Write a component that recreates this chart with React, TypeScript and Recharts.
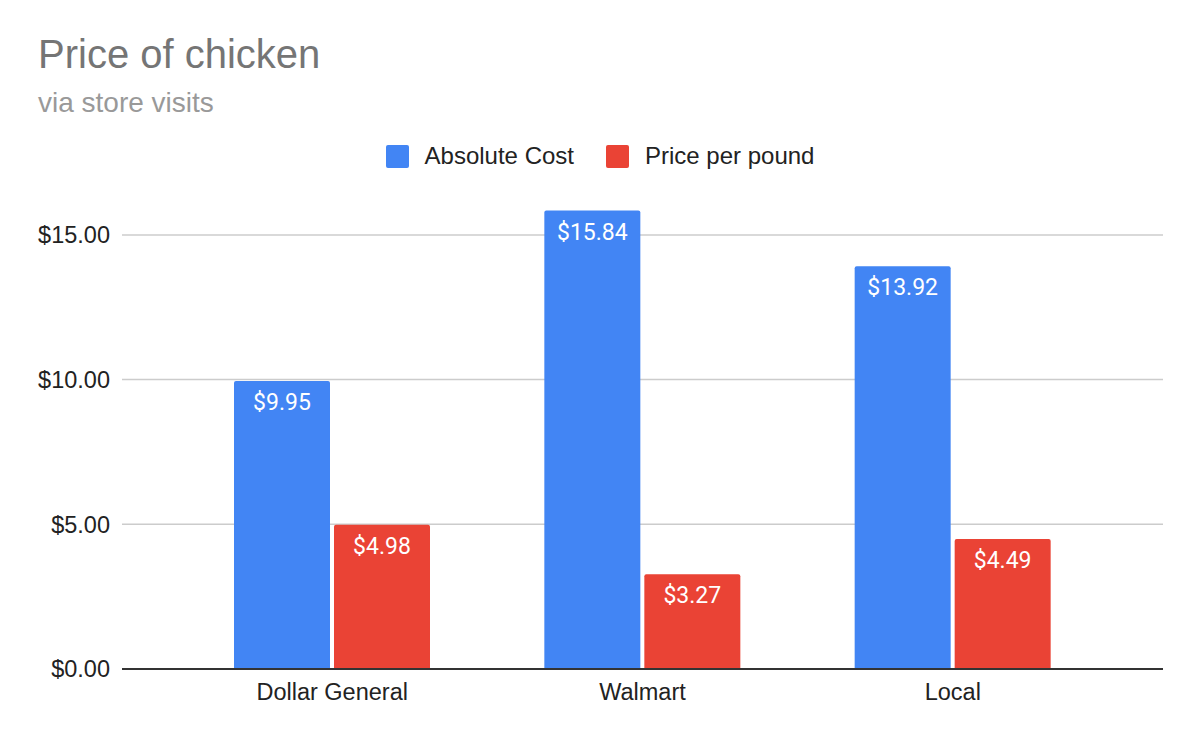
import { Bar, BarChart, CartesianGrid, LabelList, XAxis, YAxis } from "recharts";

const categories = ["Dollar General", "Walmart", "Local"];
const absoluteCost = [9.95, 15.84, 13.92];
const pricePerPound = [4.98, 3.27, 4.49];
const yTicks = [0, 5, 10, 15];

const BLUE = "#4285f4";
const RED = "#ea4335";
const FONT = "'Liberation Sans', Arial, sans-serif";

const data = categories.map((name, i) => ({
  name,
  absolute: absoluteCost[i],
  perPound: pricePerPound[i],
}));

const money = (v: number) => `$${v.toFixed(2)}`;

function InsideLabel(props: any) {
  const { x, y, width, value } = props;
  return (
    <text
      x={x + width / 2}
      y={y + 29}
      textAnchor="middle"
      fill="#fff"
      fontSize={23}
      fontFamily="Roboto, sans-serif"
    >
      {money(value)}
    </text>
  );
}

function LegendItem({ color, label }: { color: string; label: string }) {
  return (
    <div style={{ display: "flex", alignItems: "center", marginRight: 32 }}>
      <div
        style={{
          width: 23,
          height: 23,
          background: color,
          borderRadius: 2,
          marginRight: 16,
        }}
      />
      <span style={{ fontSize: 24, color: "#222" }}>{label}</span>
    </div>
  );
}

export default function App() {
  return (
    <div
      style={{
        position: "absolute",
        left: 0,
        top: 0,
        width: 1200,
        height: 742,
        background: "#fff",
        fontFamily: FONT,
      }}
    >
      <div
        style={{
          position: "absolute",
          left: 38,
          top: 30,
          fontSize: 40,
          color: "#757575",
          lineHeight: "48px",
        }}
      >
        Price of chicken
      </div>
      <div
        style={{
          position: "absolute",
          left: 38,
          top: 86,
          fontSize: 28,
          color: "#999",
          lineHeight: "34px",
        }}
      >
        via store visits
      </div>
      <div
        style={{
          position: "absolute",
          top: 142,
          left: 0,
          width: 1200,
          display: "flex",
          justifyContent: "center",
          paddingLeft: 32,
          boxSizing: "border-box",
        }}
      >
        <LegendItem color={BLUE} label="Absolute Cost" />
        <LegendItem color={RED} label="Price per pound" />
      </div>
      <BarChart
        width={1200}
        height={742}
        data={data}
        margin={{ top: 177, right: 37, bottom: 43, left: 0 }}
        barSize={96}
        barGap={4}
        style={{ position: "absolute", left: 0, top: 0 }}
      >
        <CartesianGrid
          vertical={false}
          horizontalValues={yTicks}
          stroke="#cccccc"
          strokeWidth={1.5}
        />
        <YAxis
          width={122}
          domain={[0, 17]}
          ticks={yTicks}
          tickFormatter={money}
          axisLine={false}
          tickLine={false}
          tickSize={0}
          tickMargin={12}
          tick={{ fontSize: 23.5, fill: "#222", fontFamily: FONT }}
        />
        <XAxis
          dataKey="name"
          height={30}
          padding={{ left: 55, right: 55 }}
          tickLine={false}
          tickSize={0}
          tickMargin={14}
          axisLine={{ stroke: "#333", strokeWidth: 2 }}
          tick={{ fontSize: 23.5, fill: "#222", fontFamily: FONT }}
        />
        <Bar
          dataKey="absolute"
          fill={BLUE}
          radius={[2, 2, 0, 0]}
          isAnimationActive={false}
        >
          <LabelList dataKey="absolute" content={InsideLabel} />
        </Bar>
        <Bar
          dataKey="perPound"
          fill={RED}
          radius={[2, 2, 0, 0]}
          isAnimationActive={false}
        >
          <LabelList dataKey="perPound" content={InsideLabel} />
        </Bar>
      </BarChart>
    </div>
  );
}
